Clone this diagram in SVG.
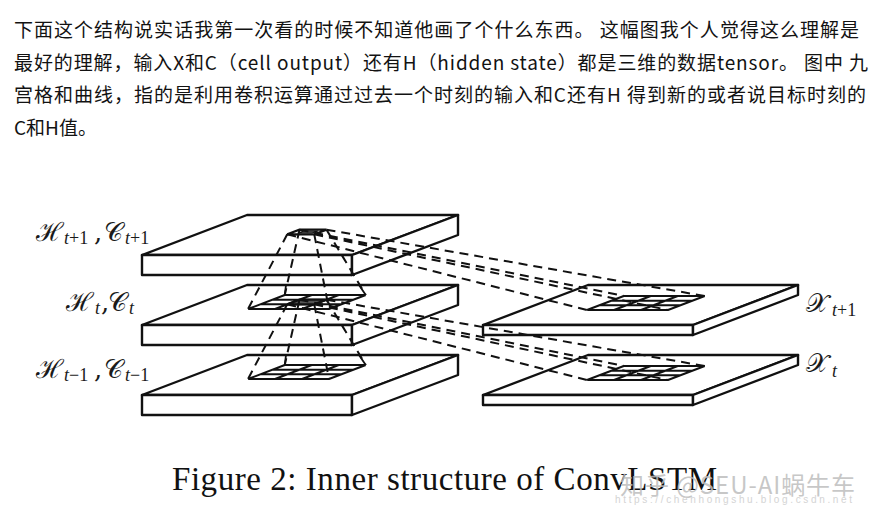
<svg xmlns="http://www.w3.org/2000/svg" xmlns:xlink="http://www.w3.org/1999/xlink" width="886" height="505" viewBox="0 0 886 505">
<style>
.para{font-family:"Noto Sans CJK SC","Noto Sans",sans-serif;font-size:19px;fill:#121212}
.slab{fill:#fff;stroke:#111;stroke-width:2.4;stroke-linejoin:round}
.gl{stroke:#111;stroke-width:2;fill:none}
.dash{stroke:#111;stroke-width:2;stroke-dasharray:9 6;fill:none}
.wall{stroke:#111;stroke-width:1.8;fill:none}
.lbl{font-family:"DejaVu Serif","Liberation Serif",serif;font-size:26px;fill:#1a1a1a}
.sub{font-family:"Liberation Serif",serif;font-size:18px;fill:#1a1a1a}
.cap{font-family:"Liberation Serif","Times New Roman",serif;font-size:33px;fill:#111}
.wm{font-family:"Noto Sans CJK SC","Noto Sans",sans-serif;font-size:24px;fill:#bdbdbd;fill-opacity:0.85}
.url{font-family:"Liberation Sans",sans-serif;font-size:10px;fill:#d4d4d4}
</style>
<defs>
<g id="grid">
<polygon points="0,0 81,0 117.75,-14 36.75,-14" fill="#fff" stroke="none"/>
<path class="gl" d="M0,0H81M12.25,-4.667H93.25M24.5,-9.333H105.5M36.75,-14H117.75M0,0L36.75,-14M27,0L63.75,-14M54,0L90.75,-14M81,0L117.75,-14"/>
</g>
<g id="cone">
<path class="dash" d="M287.25,234.33L248,309M299.5,229.67L284.75,295M326.5,229.67L365.75,295M314.25,234.33L329,309"/>
<path class="dash" d="M287.25,234.33L587,310M314.25,234.33L668,310M299.5,229.67L623.75,296M326.5,229.67L704.75,296"/>
</g>
</defs>

<g id="paragraph">
<text class="para" x="14" y="37" textLength="845" lengthAdjust="spacing">下面这个结构说实话我第一次看的时候不知道他画了个什么东西。 这幅图我个人觉得这么理解是</text>
<text class="para" x="14" y="69.5" textLength="854" lengthAdjust="spacing">最好的理解，输入X和C（cell output）还有H（hidden state）都是三维的数据tensor。 图中 九</text>
<text class="para" x="14" y="102" textLength="852" lengthAdjust="spacing">宫格和曲线，指的是利用卷积运算通过过去一个时刻的输入和C还有H 得到新的或者说目标时刻的</text>
<text class="para" x="14" y="134.5">C和H值。</text>
</g>

<g id="slab-h-t1">
<polygon class="slab" points="142,255 352,255 458,215 247,215"/>
<rect class="slab" x="142" y="255" width="210" height="20"/>
<polygon class="slab" points="352,255 458,215 458,235 352,275"/>
</g>
<g id="slab-h-t">
<polygon class="slab" points="142,325 352,325 458,285 247,285"/>
<rect class="slab" x="142" y="325" width="210" height="20"/>
<polygon class="slab" points="352,325 458,285 458,305 352,345"/>
</g>
<g id="slab-h-t0">
<polygon class="slab" points="142,395 352,395 458,355 247,355"/>
<rect class="slab" x="142" y="395" width="210" height="20"/>
<polygon class="slab" points="352,395 458,355 458,375 352,415"/>
</g>
<g id="slab-x-t1">
<polygon class="slab" points="483,325 693,325 798,285 588,285"/>
<rect class="slab" x="483" y="325" width="210" height="10"/>
<polygon class="slab" points="693,325 798,285 798,295 693,335"/>
</g>
<g id="slab-x-t">
<polygon class="slab" points="483,395 693,395 798,355 588,355"/>
<rect class="slab" x="483" y="395" width="210" height="10"/>
<polygon class="slab" points="693,395 798,355 798,365 693,405"/>
</g>

<g id="grids">
<path class="wall" d="M286,285L284.75,295M359,285L365.75,295M286,355L284.75,365M359,355L365.75,365"/>
<use xlink:href="#grid" x="248" y="309"/>
<use xlink:href="#grid" x="248" y="379"/>
<use xlink:href="#grid" x="587" y="310"/>
<use xlink:href="#grid" x="587" y="380"/>
<polygon points="287.25,304.33 314.25,304.33 326.5,299.67 299.5,299.67" fill="#555" stroke="#111" stroke-width="2.4"/>
<g id="top-cell">
<polygon points="287.25,234.33 314.25,234.33 326.5,229.67 299.5,229.67" fill="#fff" stroke="#111" stroke-width="2.2"/>
<polygon points="298,233 312,233 318,231 304,231" fill="#666" stroke="#111" stroke-width="1.2"/>
</g>
</g>

<g id="connectors">
<use xlink:href="#cone"/>
<use xlink:href="#cone" y="70"/>
</g>

<g id="labels">
<text class="lbl" x="36" y="241">ℋ</text><text class="sub" x="64" y="244"><tspan font-style="italic">t</tspan>+1</text>
<text class="lbl" x="94" y="241">,</text>
<text class="lbl" x="104" y="241">𝒞</text><text class="sub" x="125" y="244"><tspan font-style="italic">t</tspan>+1</text>
<text class="lbl" x="66" y="311">ℋ</text><text class="sub" x="95" y="314" font-style="italic">t</text>
<text class="lbl" x="101" y="311">,</text>
<text class="lbl" x="108" y="311">𝒞</text><text class="sub" x="129" y="314" font-style="italic">t</text>
<text class="lbl" x="36" y="378">ℋ</text><text class="sub" x="64" y="381"><tspan font-style="italic">t</tspan>−1</text>
<text class="lbl" x="94" y="378">,</text>
<text class="lbl" x="104" y="378">𝒞</text><text class="sub" x="125" y="381"><tspan font-style="italic">t</tspan>−1</text>
<text class="lbl" x="806" y="312">𝒳</text><text class="sub" x="832" y="316"><tspan font-style="italic">t</tspan>+1</text>
<text class="lbl" x="806" y="372">𝒳</text><text class="sub" x="832" y="377" font-style="italic">t</text>
</g>

<g id="caption">
<text class="cap" x="172" y="490" textLength="545" lengthAdjust="spacing">Figure 2: Inner structure of ConvLSTM</text>
<text class="wm" x="620" y="494" textLength="235" lengthAdjust="spacing">知乎 @SEU-AI蜗牛车</text>
<text class="url" x="615" y="503" textLength="237" lengthAdjust="spacing">https://chenhongshu.blog.csdn.net</text>
</g>
</svg>
